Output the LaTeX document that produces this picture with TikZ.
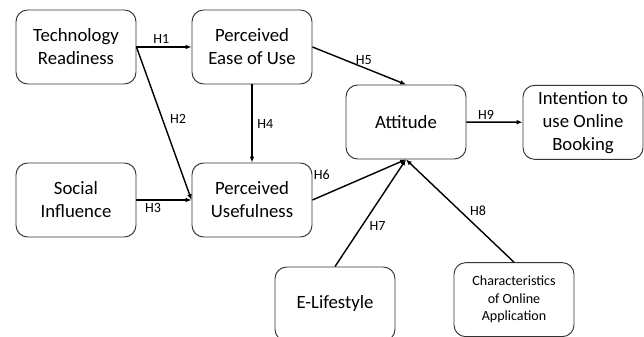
\documentclass[tikz,border=0pt]{standalone}
\usepackage{fontspec}
\setmainfont{Carlito}
\usepackage{tikz}
\usetikzlibrary{arrows.meta}

\begin{document}
\begin{tikzpicture}
\useasboundingbox (0,0) rectangle (19.32,10.11);
\begin{scope}[every node/.style={rounded corners=10pt,draw=black!80,line width=0.8pt,
              minimum width=3.6cm,minimum height=2.22cm,align=center,
              font=\fontsize{16}{19.6}\selectfont}]
    \node (tr)  at (2.28,8.70)  {Technology\\Readiness};
    \node (peu) at (7.56,8.70)  {Perceived\\Ease of Use};
    \node (si)  at (2.28,4.11)  {Social\\Influence};
    \node (pu)  at (7.56,4.11)  {Perceived\\Usefulness};
    \node (att) at (12.18,6.45) {Attitude};
    \node (int) at (17.49,6.44) {Intention to\\use Online\\Booking};
    \node (el)  at (10.05,0.99) {E-Lifestyle};
    \node[font=\fontsize{12}{15}\selectfont] (coa) at (15.42,1.12)
          {Characteristics\\of Online\\Application};
\end{scope}

\begin{scope}[every node/.style={font=\fontsize{12}{14}\selectfont,inner sep=2pt},
              every edge/.style={draw=black,line width=1.2pt,-{Latex[length=5pt,width=4pt]}}]
    \path (tr) edge node[above,pos=0.45] {H1} (peu);
    \path (tr.east) edge node[right,pos=0.47,xshift=4pt] {H2} (pu.west);
    \path (si) edge node[below,pos=0.3] {H3} (pu);
    \path (peu) edge node[right,xshift=2pt] {H4} (pu);
    \path (peu.east) edge node[above,pos=0.55] {H5} (att.north);
    \path (pu.east) edge node[above,pos=0.1,yshift=0.4cm] {H6} (att.south);
    \path (el.north) edge node[right,pos=0.38,xshift=4pt] {H7} (att.south);
    \path (coa.north) edge node[right,pos=0.5,xshift=6pt] {H8} (att.south);
    \path (att) edge node[above,pos=0.35] {H9} (int);
\end{scope}
\end{tikzpicture}
\end{document}
